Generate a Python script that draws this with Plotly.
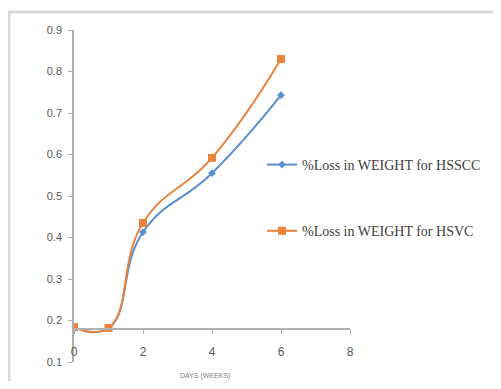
import plotly.graph_objects as go

days = [0, 1, 2, 4, 6]
hsscc = [0.184, 0.182, 0.413, 0.555, 0.743]
hsvc = [0.184, 0.182, 0.435, 0.592, 0.830]
x_ticks = [0, 2, 4, 6, 8]
y_ticks = [0.1, 0.2, 0.3, 0.4, 0.5, 0.6, 0.7, 0.8, 0.9]
name_a = "%Loss in WEIGHT for HSSCC"
name_b = "%Loss in WEIGHT for HSVC"
x_title = "DAYS (WEEKS)"

O = 8  # page body margin offset
W, H = 501 - O, 389 - 2 * O
L, T = 74 - O, 30 - O
R, B = W - (350 - O), H - (362 - O)
pw, ph = W - L - R, H - T - B

def px(xp):
    return (xp - O - L) / pw

def py(yp):
    return (H - B - (yp - O)) / ph

fig = go.Figure()
fig.add_trace(go.Scatter(
    x=days, y=hsscc, name=name_a, mode="lines+markers", legendgroup="a",
    line=dict(color="#5A8ED0", width=2, shape="spline", smoothing=1.3),
    marker=dict(symbol="diamond", size=6, color="#5A8ED0")))
fig.add_trace(go.Scatter(
    x=days, y=hsvc, name=name_b, mode="lines+markers", legendgroup="b",
    line=dict(color="#E9823D", width=2, shape="spline", smoothing=1.3),
    marker=dict(symbol="square", size=8, color="#E9823D")))

axis_pos = (0.179 - 0.1) / 0.8

fig.update_layout(
    width=W, height=H,
    margin=dict(l=L, r=R, t=T, b=B, autoexpand=False),
    paper_bgcolor="white", plot_bgcolor="white",
    font=dict(family="Liberation Sans, Arial", size=11, color="#595959"),
    xaxis=dict(range=[0, 8], tickvals=x_ticks, showgrid=False, zeroline=False,
               showline=True, linecolor="#B0B0B0", linewidth=1.5,
               ticks="outside", ticklen=4, tickcolor="#B0B0B0",
               anchor="free", position=axis_pos, ticklabelstandoff=8,
               tickfont=dict(size=12, color="#595959")),
    yaxis=dict(range=[0.1, 0.9], tickvals=y_ticks, tickformat=".1f",
               showgrid=False, zeroline=False,
               showline=True, linecolor="#B0B0B0", linewidth=1.5,
               ticks="outside", ticklen=4, tickcolor="#B0B0B0",
               ticklabelstandoff=4,
               tickfont=dict(size=11, color="#595959")),
    legend=dict(x=px(262), y=py(149), xanchor="left", yanchor="top",
                bgcolor="rgba(0,0,0,0)", tracegroupgap=45,
                font=dict(family="Liberation Serif, Times New Roman", size=14, color="#404040")),
    shapes=[dict(type="rect", xref="paper", yref="paper",
                 x0=px(9), x1=px(497), y0=py(400), y1=py(12),
                 line=dict(color="#D9D9D9", width=3), fillcolor="rgba(0,0,0,0)",
                 layer="below")],
    annotations=[dict(text=x_title, xref="paper", yref="paper",
                      x=px(205), y=py(376), showarrow=False,
                      xanchor="center", yanchor="middle",
                      font=dict(size=7, color="#7F7F7F"))],
)

fig.write_html("out.html")
